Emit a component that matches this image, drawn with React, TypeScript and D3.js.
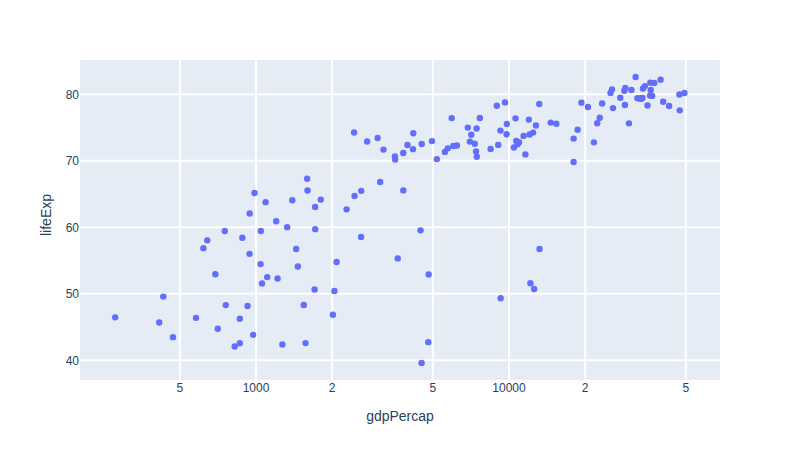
import React from "react";
import * as d3 from "d3";

const gdpPercap: number[] = [
  974.58, 5937.03, 6223.37, 4797.23, 12779.38, 34435.37, 36126.49, 29796.05, 1391.25, 33692.61,
  1441.28, 3822.14, 7446.3, 12569.85, 9065.8, 10680.79, 1217.03, 430.07, 1713.78, 2042.1,
  36319.24, 706.02, 1704.06, 13171.64, 4959.11, 7006.58, 986.15, 277.55, 3632.56, 9645.06,
  1544.75, 14619.22, 8948.1, 22833.31, 35278.42, 2082.48, 6025.37, 6873.26, 5581.18, 5728.35,
  12154.09, 641.37, 690.81, 33207.08, 30470.02, 13206.48, 752.75, 32170.37, 1327.61, 27538.41,
  5186.05, 942.65, 579.23, 1201.64, 3548.33, 39724.98, 18008.94, 36180.79, 2452.21, 3540.65,
  11605.71, 4471.06, 40676.0, 25523.28, 28569.72, 7320.88, 31656.07, 4519.46, 1463.25, 1593.07,
  23348.14, 47306.99, 10461.06, 1569.33, 414.51, 12057.5, 1044.77, 759.35, 12451.66, 1042.58,
  1803.15, 10956.99, 11977.57, 3095.77, 9253.9, 3820.18, 823.69, 944.0, 4811.06, 1091.36,
  36797.93, 25185.01, 2749.32, 619.68, 2013.98, 49357.19, 22316.19, 2605.95, 9809.19, 4172.84,
  7408.91, 3190.48, 15389.92, 20509.65, 19328.71, 7670.12, 10808.48, 863.09, 1598.44, 21654.83,
  1712.47, 9786.53, 862.54, 47143.18, 18678.31, 25768.26, 926.14, 9269.66, 28821.06, 3970.1,
  2602.39, 4513.48, 33859.75, 37506.42, 4184.55, 28718.28, 1107.48, 7458.4, 882.97, 18008.51,
  7092.92, 8458.28, 1056.38, 33203.26, 42951.65, 10611.46, 11415.81, 2441.58, 3025.35, 2280.77,
  1271.21, 469.71,
];

const lifeExp: number[] = [
  43.828, 76.423, 72.301, 42.731, 75.32, 81.235, 79.829, 75.635, 64.062, 79.441,
  56.728, 65.554, 74.852, 50.728, 72.39, 73.005, 52.295, 49.58, 59.723, 50.43,
  80.653, 44.741, 50.651, 78.553, 72.961, 72.889, 65.152, 46.462, 55.322, 78.782,
  48.328, 75.748, 78.273, 76.486, 78.332, 54.791, 72.235, 74.994, 71.338, 71.878,
  51.579, 58.04, 52.947, 79.313, 80.657, 56.735, 59.448, 79.406, 60.022, 79.483,
  70.259, 56.007, 46.388, 60.916, 70.198, 82.208, 73.338, 81.757, 64.698, 70.65,
  70.964, 59.545, 78.885, 80.745, 80.546, 72.567, 82.603, 72.535, 54.11, 67.297,
  78.623, 77.588, 71.993, 42.592, 45.678, 73.952, 59.443, 48.303, 74.241, 54.467,
  64.164, 72.801, 76.195, 66.803, 74.543, 71.164, 42.082, 62.069, 52.906, 63.785,
  79.762, 80.204, 72.899, 56.867, 46.859, 80.196, 75.64, 65.483, 75.537, 71.752,
  71.421, 71.688, 75.563, 78.098, 78.746, 76.442, 72.476, 46.242, 65.528, 72.777,
  63.062, 74.002, 42.568, 79.972, 74.663, 77.926, 48.159, 49.339, 80.941, 72.396,
  58.556, 39.613, 80.884, 81.701, 74.143, 78.4, 52.517, 70.616, 58.42, 69.819,
  73.923, 71.777, 51.542, 79.425, 78.242, 76.384, 73.747, 74.249, 73.422, 62.698,
  42.384, 43.487,
];

const xTicks: number[] = [500, 1000, 2000, 5000, 10000, 20000, 50000];
const xTickLabels: string[] = ["5", "1000", "2", "5", "10000", "2", "5"];
const yTicks: number[] = [40, 50, 60, 70, 80];

const W = 800;
const H = 461;
const L = 80, R = 720, T = 60, B = 380;
const FONT = '"Liberation Sans", Arial, sans-serif';
const TXT = "#2a3f5f";

export default function App() {
  const x = d3.scaleLog().domain([Math.pow(10, 2.3043), Math.pow(10, 4.834)]).range([L, R]);
  const y = d3.scaleLinear().domain([37.04, 85.16]).range([B, T]);
  return (
    <svg width={W} height={H} style={{ position: "absolute", left: 0, top: 0, background: "#fff" }}>
      <rect x={L} y={T} width={R - L} height={B - T} fill="#e5ecf6" />
      {xTicks.map((t) => (
        <line key={"gx" + t} x1={x(t)} x2={x(t)} y1={T} y2={B} stroke="#fff" strokeWidth={2} />
      ))}
      {yTicks.map((t) => (
        <line key={"gy" + t} x1={L} x2={R} y1={y(t)} y2={y(t)} stroke="#fff" strokeWidth={2} />
      ))}
      <g>
        {gdpPercap.map((g, i) => (
          <circle key={i} cx={x(g)} cy={y(lifeExp[i])} r={3.2} fill="#636efa" />
        ))}
      </g>
      {xTicks.map((t, i) => (
        <text key={"tx" + t} x={x(t)} y={391.5} textAnchor="middle" fontFamily={FONT} fontSize={12} fill={TXT}>
          {xTickLabels[i]}
        </text>
      ))}
      {yTicks.map((t) => (
        <text key={"ty" + t} x={79} y={y(t)} dy="0.35em" textAnchor="end" fontFamily={FONT} fontSize={12} fill={TXT}>
          {t}
        </text>
      ))}
      <text x={400} y={421} textAnchor="middle" fontFamily={FONT} fontSize={14} fill={TXT}>
        gdpPercap
      </text>
      <text transform={`translate(51,215) rotate(-90)`} textAnchor="middle" fontFamily={FONT} fontSize={14} fill={TXT}>
        lifeExp
      </text>
    </svg>
  );
}
